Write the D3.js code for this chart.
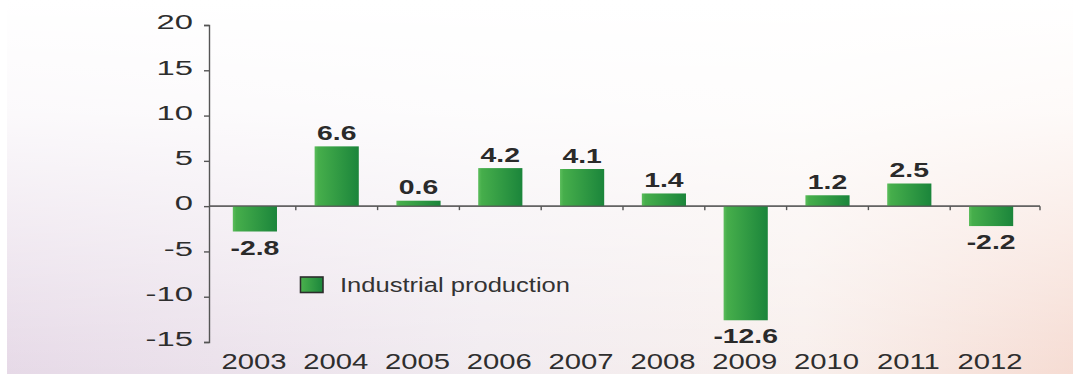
<!DOCTYPE html>
<html>
<head>
<meta charset="utf-8">
<script src="https://cdn.jsdelivr.net/npm/d3@7"></script>
<style>
  html, body { margin: 0; padding: 0; background: #fff; }
  svg { display: block; font-family: "Liberation Sans", Arial, sans-serif; }
</style>
</head>
<body>
<svg id="chart" width="1073" height="374"></svg>
<script>
// Annual change in industrial production, %
const years = ["2003", "2004", "2005", "2006", "2007", "2008", "2009", "2010", "2011", "2012"];
const production = [-2.8, 6.6, 0.6, 4.2, 4.1, 1.4, -12.6, 1.2, 2.5, -2.2];
const yTicks = [-15, -10, -5, 0, 5, 10, 15, 20];
const seriesName = "Industrial production";

const W = 1073, H = 374;
const svg = d3.select("#chart");
const defs = svg.append("defs");

// plain hyphen for negatives
const locale = d3.formatLocale({ decimal: ".", thousands: ",", grouping: [3], currency: ["", ""], minus: "-" });
const fmtInt = locale.format("d");
const fmtOne = locale.format(".1f");

// soft backdrop: lavender on the left, peach on the right, fading to white at the top
const bgH = defs.append("linearGradient").attr("id", "bgH").attr("x1", 0).attr("x2", 1).attr("y1", 0).attr("y2", 0);
bgH.append("stop").attr("offset", "0%").attr("stop-color", "#e6d9e7");
bgH.append("stop").attr("offset", "45%").attr("stop-color", "#f1ebf0");
bgH.append("stop").attr("offset", "75%").attr("stop-color", "#f8efec");
bgH.append("stop").attr("offset", "100%").attr("stop-color", "#f6dcd3");
const bgV = defs.append("linearGradient").attr("id", "bgV").attr("x1", 0).attr("x2", 0).attr("y1", 0).attr("y2", 1);
bgV.append("stop").attr("offset", "0%").attr("stop-color", "#ffffff").attr("stop-opacity", 1);
bgV.append("stop").attr("offset", "30%").attr("stop-color", "#ffffff").attr("stop-opacity", 0.85);
bgV.append("stop").attr("offset", "100%").attr("stop-color", "#ffffff").attr("stop-opacity", 0);

svg.append("rect").attr("width", W).attr("height", H).attr("fill", "url(#bgH)");
svg.append("rect").attr("width", W).attr("height", H).attr("fill", "url(#bgV)");
svg.append("rect").attr("width", 7).attr("height", H).attr("fill", "#ffffff");

// bar fill: light green on the left edge, deeper green on the right
const barGrad = defs.append("linearGradient").attr("id", "barGrad").attr("x1", 0).attr("x2", 1).attr("y1", 0).attr("y2", 0);
barGrad.append("stop").attr("offset", "0%").attr("stop-color", "#5cbd5c");
barGrad.append("stop").attr("offset", "8%").attr("stop-color", "#46ae4b");
barGrad.append("stop").attr("offset", "100%").attr("stop-color", "#1b853b");

const axisX = 209, axisEnd = 1040;
const x = d3.scaleBand().domain(years).range([214, 1032]).paddingInner(0.46).paddingOuter(0.23);
const y = d3.scaleLinear().domain([-15, 20]).range([342, 25]);

const textColor = "#2e2e2e";

// y axis
const yAxis = svg.append("g")
  .attr("transform", `translate(${axisX},0)`)
  .call(d3.axisLeft(y).tickValues(yTicks).tickSize(5).tickSizeOuter(5).tickFormat(fmtInt));
yAxis.selectAll("path, line").attr("stroke", "#555").attr("stroke-width", 1.4);
const ySx = 1.6;
yAxis.selectAll("text")
  .attr("fill", textColor)
  .attr("font-size", 20.5)
  .attr("dy", "0.28em")
  .attr("x", -16 / ySx)
  .attr("transform", `translate(0,-2) scale(${ySx},1)`);

// zero line with boundary ticks between categories
const y0 = y(0);
const step = x.step();
const boundaries = years.slice(1).map(d => x(d) + x.bandwidth() / 2 - step / 2);
const xAxis = svg.append("g");
xAxis.append("line")
  .attr("x1", axisX).attr("x2", axisEnd).attr("y1", y0).attr("y2", y0)
  .attr("stroke", "#555").attr("stroke-width", 1.4);
xAxis.selectAll("line.tick").data(boundaries.concat([axisEnd])).join("line")
  .attr("class", "tick")
  .attr("x1", d => d).attr("x2", d => d)
  .attr("y1", y0).attr("y2", y0 + 4)
  .attr("stroke", "#555").attr("stroke-width", 1.4);

// bars
const data = years.map((yr, i) => ({ year: yr, value: production[i] }));
svg.append("g").selectAll("rect").data(data).join("rect")
  .attr("x", d => x(d.year))
  .attr("width", x.bandwidth())
  .attr("y", d => Math.min(y(d.value), y0))
  .attr("height", d => Math.abs(y(d.value) - y0))
  .attr("fill", "url(#barGrad)");

// redraw the zero line over the bars
svg.append("line")
  .attr("x1", axisX).attr("x2", axisEnd).attr("y1", y0).attr("y2", y0)
  .attr("stroke", "#555").attr("stroke-width", 1.2).attr("opacity", 0.8);

// value labels
const vSx = 1.35;
svg.append("g").selectAll("text").data(data).join("text")
  .attr("transform", d => {
    const cx = x(d.year) + x.bandwidth() / 2;
    const by = d.value >= 0 ? y(d.value) - 6.5 : y(d.value) + 23;
    return `translate(${cx},${by}) scale(${vSx},1)`;
  })
  .attr("text-anchor", "middle")
  .attr("font-size", 21)
  .attr("font-weight", "bold")
  .attr("fill", "#2a2a2a")
  .text(d => fmtOne(d.value));

// category labels
const cSx = 1.36;
svg.append("g").selectAll("text").data(years).join("text")
  .attr("transform", d => `translate(${x(d) + x.bandwidth() / 2 - 1},369) scale(${cSx},1)`)
  .attr("text-anchor", "middle")
  .attr("font-size", 21.5)
  .attr("fill", textColor)
  .text(d => d);

// legend
const legend = svg.append("g").attr("transform", "translate(300,277)");
legend.append("rect")
  .attr("x", 0.5).attr("y", 0).attr("width", 22.5).attr("height", 15.5)
  .attr("fill", "url(#barGrad)").attr("stroke", "#2c2c2c").attr("stroke-width", 1.6);
legend.append("text")
  .attr("transform", "translate(40,14.5) scale(1.31,1)")
  .attr("font-size", 19.5)
  .attr("fill", "#333")
  .text(seriesName);
</script>
</body>
</html>
